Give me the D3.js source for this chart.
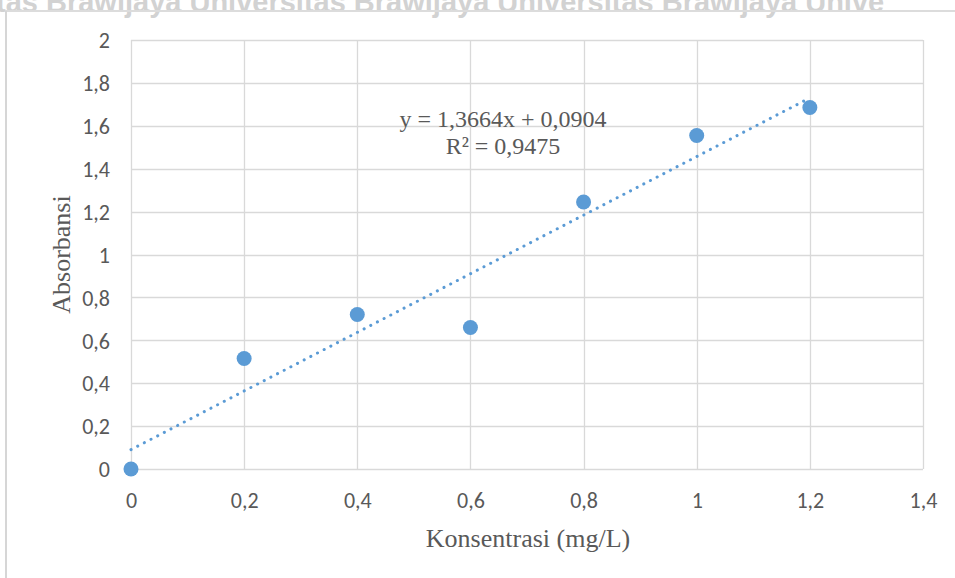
<!DOCTYPE html>
<html>
<head>
<meta charset="utf-8">
<script src="https://cdn.jsdelivr.net/npm/d3@7"></script>
<style>
  body { margin: 0; background: #fff; }
  svg { display: block; }
</style>
</head>
<body>
<svg id="chart" width="955" height="578"></svg>
<script>
// data
var konsentrasi = [0, 0.2, 0.4, 0.6, 0.8, 1.0, 1.2];
var absorbansi = [0, 0.515, 0.72, 0.66, 1.245, 1.555, 1.685];
var xTicks = [0, 0.2, 0.4, 0.6, 0.8, 1, 1.2, 1.4];
var yTicks = [0, 0.2, 0.4, 0.6, 0.8, 1, 1.2, 1.4, 1.6, 1.8, 2];
var slope = 1.3664, intercept = 0.0904;
var eqLines = ["y = 1,3664x + 0,0904", "R² = 0,9475"];

var svg = d3.select("#chart");
var pLeft = 131, pRight = 923, pTop = 40, pBottom = 469;

var x = d3.scaleLinear().domain([0, 1.4]).range([pLeft, pRight]);
var y = d3.scaleLinear().domain([0, 2]).range([pBottom, pTop]);

function comma(v) { return String(v).replace(".", ","); }

// scan watermark / page edges
svg.append("text")
  .attr("x", -4).attr("y", 12)
  .attr("font-family", "Liberation Sans, Arial, sans-serif")
  .attr("font-size", 29).attr("font-weight", "bold")
  .attr("fill", "#d2d2d2")
  .text("tas Brawijaya   Universitas Brawijaya   Universitas Brawijaya   Unive");
svg.append("line").attr("x1", 5).attr("x2", 955).attr("y1", 11).attr("y2", 11)
  .attr("stroke", "#dcdcdc").attr("stroke-width", 2);
svg.append("line").attr("x1", 6).attr("x2", 6).attr("y1", 11).attr("y2", 578)
  .attr("stroke", "#d6d6d6").attr("stroke-width", 2);

// gridlines
svg.append("g").selectAll("line").data(yTicks).enter().append("line")
  .attr("x1", pLeft).attr("x2", pRight)
  .attr("y1", function(d) { return Math.round(y(d)) + 0.5; })
  .attr("y2", function(d) { return Math.round(y(d)) + 0.5; })
  .attr("stroke", "#d9d9d9").attr("stroke-width", 1.3);
svg.append("g").selectAll("line").data(xTicks).enter().append("line")
  .attr("y1", pTop).attr("y2", pBottom)
  .attr("x1", function(d) { return Math.round(x(d)) + 0.5; })
  .attr("x2", function(d) { return Math.round(x(d)) + 0.5; })
  .attr("stroke", "#d9d9d9").attr("stroke-width", 1.3);

// tick labels via axes, no domain/ticks lines
var xAxis = svg.append("g").attr("transform", "translate(0," + pBottom + ")")
  .call(d3.axisBottom(x).tickValues(xTicks).tickFormat(comma).tickSize(0).tickPadding(23));
var yAxis = svg.append("g").attr("transform", "translate(" + pLeft + ",0)")
  .call(d3.axisLeft(y).tickValues(yTicks).tickFormat(comma).tickSize(0).tickPadding(21));
[xAxis, yAxis].forEach(function(g) {
  g.select(".domain").remove();
  g.selectAll("text")
    .attr("font-family", "Carlito, 'Open Sans', sans-serif")
    .attr("font-size", 22).attr("fill", "#595959");
});
yAxis.selectAll("text").attr("dy", "0.35em");

// trendline
svg.append("line")
  .attr("x1", x(0)).attr("y1", y(intercept))
  .attr("x2", x(1.2)).attr("y2", y(slope * 1.2 + intercept))
  .attr("stroke", "#5b9bd5").attr("stroke-width", 3)
  .attr("stroke-linecap", "round").attr("stroke-dasharray", "0.1 7.4");

// points
svg.append("g").selectAll("circle").data(konsentrasi).enter().append("circle")
  .attr("cx", function(d) { return x(d); })
  .attr("cy", function(d, i) { return y(absorbansi[i]); })
  .attr("r", 7.5).attr("fill", "#5b9bd5");

// equation label
svg.append("g").selectAll("text").data(eqLines).enter().append("text")
  .attr("x", 503).attr("y", function(d, i) { return 127 + i * 27; })
  .attr("text-anchor", "middle")
  .attr("font-family", "Liberation Serif, 'Times New Roman', serif")
  .attr("font-size", 24).attr("fill", "#595959")
  .text(function(d) { return d; });

// axis titles
svg.append("text")
  .attr("x", 528).attr("y", 547)
  .attr("text-anchor", "middle")
  .attr("font-family", "Liberation Serif, 'Times New Roman', serif")
  .attr("font-size", 26).attr("fill", "#595959")
  .text("Konsentrasi (mg/L)");
svg.append("text")
  .attr("transform", "translate(70," + ((pTop + pBottom) / 2) + ") rotate(-90)")
  .attr("text-anchor", "middle")
  .attr("font-family", "Liberation Serif, 'Times New Roman', serif")
  .attr("font-size", 26).attr("fill", "#595959")
  .text("Absorbansi");
</script>
</body>
</html>
